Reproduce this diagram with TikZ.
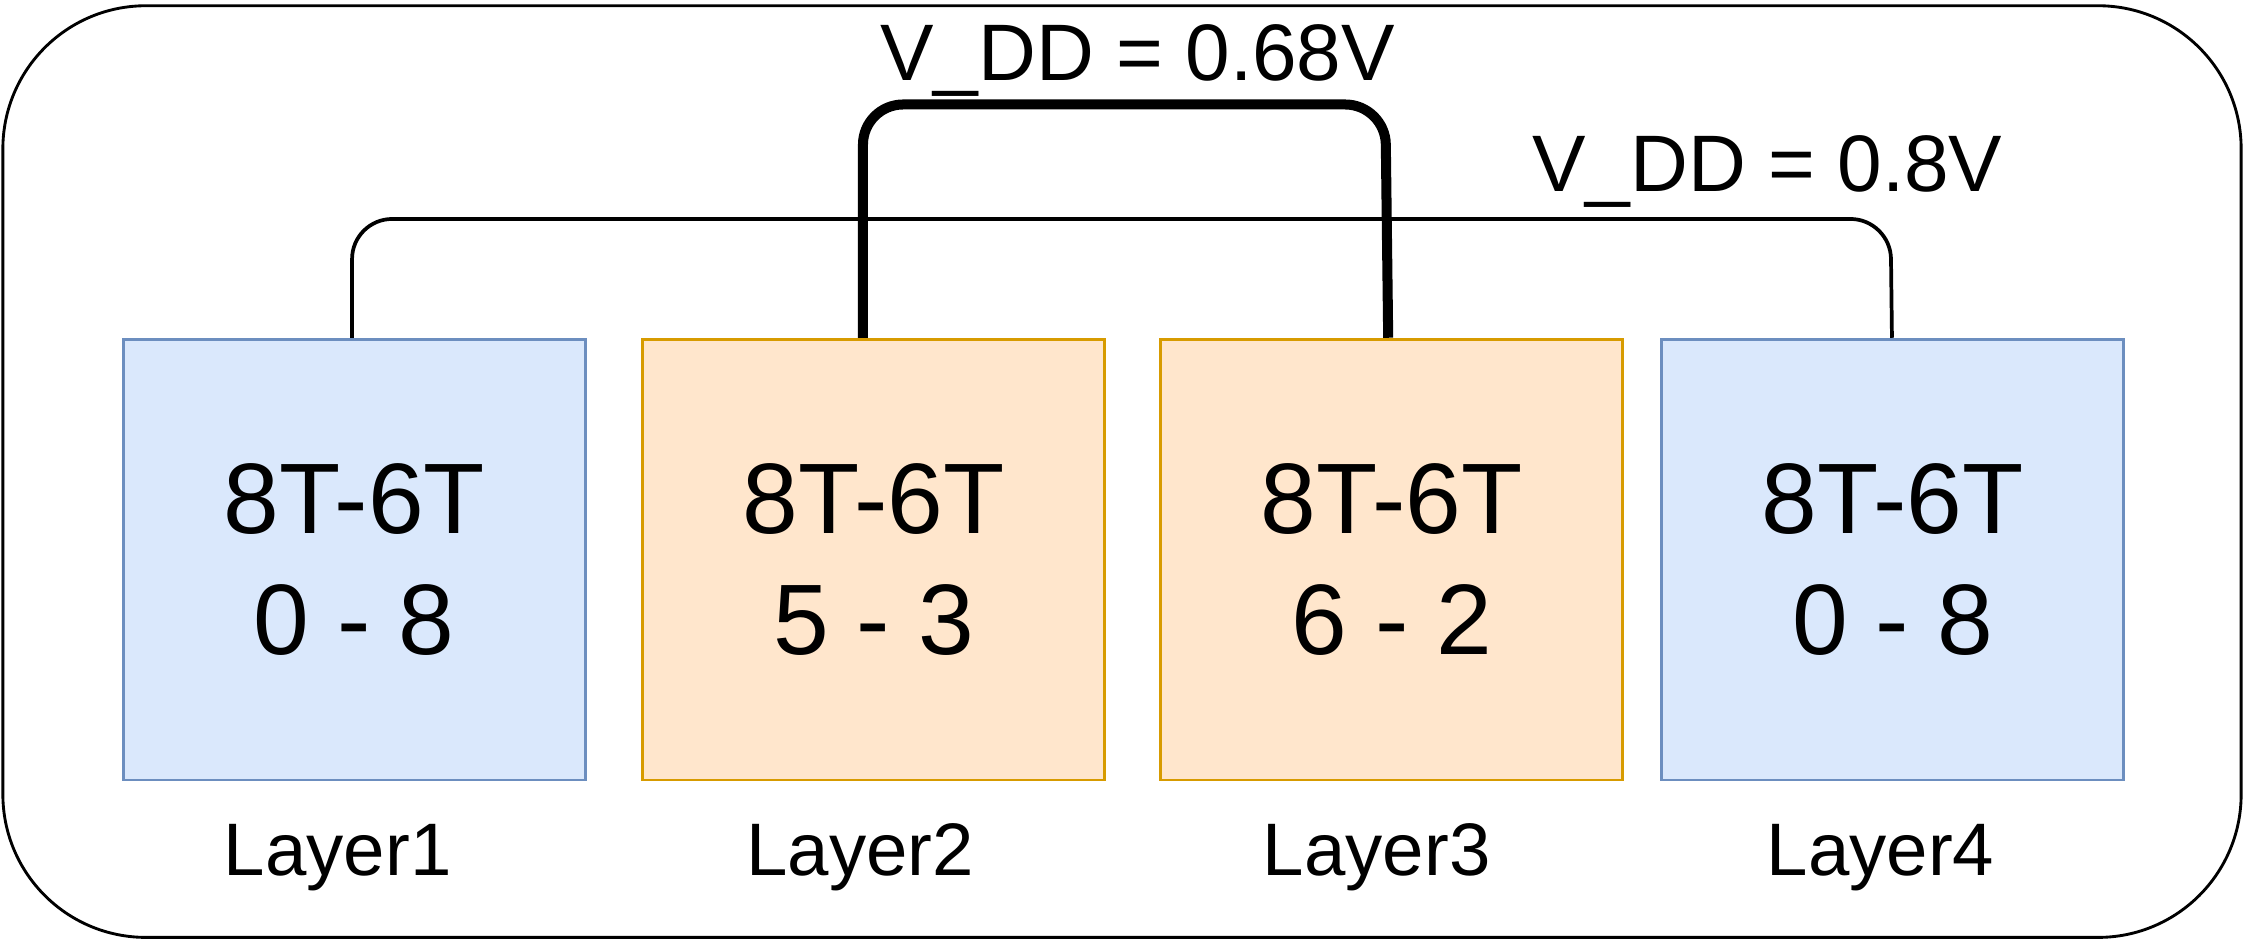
\documentclass[tikz,border=0pt]{standalone}
\usepackage{fontspec}
\setmainfont{Liberation Sans}
\definecolor{bfill}{HTML}{DAE8FC}\definecolor{bdraw}{HTML}{6C8EBF}
\definecolor{ofill}{HTML}{FFE6CC}\definecolor{odraw}{HTML}{D79B00}
\begin{document}
\begin{tikzpicture}[x=1pt,y=-1pt,
 layerbox/.style={draw,line width=2pt,minimum width=323pt,minimum height=308pt,anchor=north west,inner sep=0pt,align=center,font=\fontsize{70}{84}\selectfont},
 blue/.style={layerbox,fill=bfill,draw=bdraw},
 orange/.style={layerbox,fill=ofill,draw=odraw},
 lbl/.style={font=\fontsize{52}{60}\selectfont,anchor=base},
 vdd/.style={font=\fontsize{56}{64}\selectfont,anchor=base}]
\useasboundingbox (0,0) rectangle (1568,657);
\draw[line width=2pt,rounded corners=100pt] (2,4) rectangle (1566,655);
\node[blue] (l1) at (85,236) {8T-6T\\0 - 8};
\node[orange] (l2) at (448,236) {8T-6T\\5 - 3};
\node[orange] (l3) at (810,236) {8T-6T\\6 - 2};
\node[blue] (l4) at (1160,236) {8T-6T\\0 - 8};
\node[lbl] (t1) at (236,612) {Layer1};
\node[lbl] (t2) at (601,612) {Layer2};
\node[lbl] (t3) at (962,612) {Layer3};
\node[lbl] (t4) at (1314,612) {Layer4};
\coordinate (a1) at (246,236);\coordinate (a4) at (1322,236);
\coordinate (b2) at (603,236);\coordinate (b3) at (970,236);
\draw[line width=2.6pt,rounded corners=28pt] (a1) -- (246,153) -- (1321,153) -- (a4);
\draw[line width=7pt,rounded corners=28pt] (b2) -- (603,73) -- (968,73) -- (b3);
\node[vdd] (v1) at (795,56) {V\_DD = 0.68V};
\node[vdd] (v2) at (1235,134) {V\_DD = 0.8V};
\end{tikzpicture}
\end{document}
